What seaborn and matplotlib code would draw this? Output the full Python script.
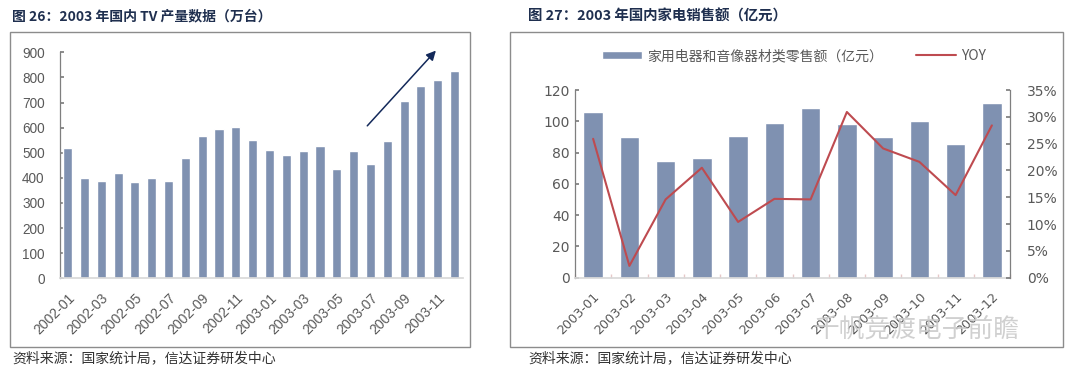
import matplotlib
matplotlib.use("Agg")
import matplotlib.pyplot as plt
import seaborn as sns
import pandas as pd
import numpy as np
from matplotlib.patches import Rectangle
from matplotlib.ticker import FuncFormatter, MultipleLocator, FixedLocator

# ---------------- data ----------------
tv_months = ["2002-01", "2002-02", "2002-03", "2002-04", "2002-05", "2002-06",
             "2002-07", "2002-08", "2002-09", "2002-10", "2002-11", "2002-12",
             "2003-01", "2003-02", "2003-03", "2003-04", "2003-05", "2003-06",
             "2003-07", "2003-08", "2003-09", "2003-10", "2003-11", "2003-12"]
tv_output = [518, 400, 386, 419, 385, 400, 386, 479, 565, 593, 601, 551,
             511, 490, 507, 526, 435, 507, 454, 547, 706, 767, 789, 824]

sales_months = ["2003-01", "2003-02", "2003-03", "2003-04", "2003-05", "2003-06",
                "2003-07", "2003-08", "2003-09", "2003-10", "2003-11", "2003-12"]
sales_value = [106, 90.2, 74.8, 76.8, 90.8, 98.7, 108.7, 98.5, 90, 100.2, 85.3, 112]
sales_yoy = [25.9, 2.2, 14.6, 20.5, 10.4, 14.7, 14.6, 30.9, 24.1, 21.6, 15.4, 28.4]

title_left = "图 26：2003 年国内 TV 产量数据（万台）"
title_right = "图 27：2003 年国内家电销售额（亿元）"
source_text = "资料来源：国家统计局，信达证券研发中心"
bar_label = "家用电器和音像器材类零售额（亿元）"
line_label = "YOY"
watermark = "千帆竞渡电子前瞻"

# ---------------- style ----------------
sns.set_theme(style="white")
plt.rcParams["font.family"] = ["Noto Sans CJK SC", "DejaVu Sans"]

BAR = "#7F91B1"
LINE = "#BE4B50"
TICK = "#595959"
SPINE = "#7F7F7F"
LIGHT = "#D9D9D9"
TITLE = "#1F2F4F"
NUMFONT_L = ["Liberation Sans", "DejaVu Sans"]
NUMFONT_R = ["DejaVu Sans"]

W, H = 1080, 375
fig = plt.figure(figsize=(10.8, 3.75), dpi=100)

def fx(px):
    return px / W

def fy(py):
    return 1 - py / H

# frames
for x0, x1 in [(10, 470), (510, 1063)]:
    fig.patches.append(Rectangle((fx(x0), fy(347)), fx(x1 - x0), (347 - 32) / H,
                                 transform=fig.transFigure, fill=False,
                                 edgecolor="#8C8C8C", linewidth=1.0))

fig.text(fx(12), fy(16), title_left, fontsize=10, fontweight="bold",
         color=TITLE, va="center", ha="left")
fig.text(fx(528), fy(16), title_right, fontsize=10.4, fontweight="bold",
         color=TITLE, va="center", ha="left")
fig.text(fx(12), fy(358), source_text, fontsize=10, color="#333333",
         va="center", ha="left")
fig.text(fx(528), fy(358), source_text, fontsize=10, color="#333333",
         va="center", ha="left")

# ---------------- left chart ----------------
axL = fig.add_axes([fx(60), fy(278.3), fx(463 - 60), (278.3 - 52.3) / H])
dfL = pd.DataFrame({"month": tv_months, "value": tv_output})
sns.barplot(data=dfL, x="month", y="value", color=BAR, saturation=1,
            width=0.54, ax=axL)
axL.set_xlim(-0.45, 23.5)
axL.set_ylim(0, 900)
axL.yaxis.set_major_locator(MultipleLocator(100))
axL.set_xlabel("")
axL.set_ylabel("")
axL.set_xticks(range(0, 24, 2))
axL.set_xticklabels(tv_months[::2], rotation=45, ha="right",
                    rotation_mode="anchor", family=NUMFONT_L)
for lab in axL.get_yticklabels():
    lab.set_family(NUMFONT_L)
for s in ["top", "right"]:
    axL.spines[s].set_visible(False)
axL.spines["left"].set_color(SPINE)
axL.spines["left"].set_linewidth(0.9)
axL.spines["bottom"].set_color(LIGHT)
axL.tick_params(axis="y", direction="in", length=3, color=SPINE,
                labelsize=9.8, labelcolor=TICK, pad=11, left=True)
axL.tick_params(axis="x", length=0, labelsize=10, labelcolor=TICK, pad=9)
axL.annotate("", xy=(22.0, 915), xytext=(17.7, 599),
             arrowprops=dict(arrowstyle="-|>", color="#13295A", lw=1.1,
                             mutation_scale=14),
             annotation_clip=False)

# ---------------- right chart ----------------
axR = fig.add_axes([fx(575), fy(277.7), fx(1010 - 575), (277.7 - 90) / H])
dfR = pd.DataFrame({"month": sales_months, "value": sales_value,
                    "yoy": sales_yoy, "pos": np.arange(len(sales_months))})
sns.barplot(data=dfR, x="month", y="value", color=BAR, saturation=1,
            width=0.54, ax=axR, label=bar_label)
if axR.get_legend() is not None:
    axR.get_legend().remove()
axR.set_xlim(-0.5, 11.5)
axR.set_ylim(0, 120)
axR.yaxis.set_major_locator(MultipleLocator(20))
axR.set_xlabel("")
axR.set_ylabel("")
axR.set_xticks(range(12))
axR.set_xticklabels(sales_months, rotation=45, ha="right",
                    rotation_mode="anchor", family=NUMFONT_R)
axR.xaxis.set_minor_locator(FixedLocator(np.arange(-0.5, 12, 1.0)))
for lab in axR.get_yticklabels():
    lab.set_family(NUMFONT_R)
axR.spines["top"].set_visible(False)
axR.spines["right"].set_visible(False)
axR.spines["left"].set_color(SPINE)
axR.spines["left"].set_linewidth(0.9)
axR.spines["bottom"].set_color(LIGHT)
axR.tick_params(axis="y", direction="in", length=3, color=SPINE,
                labelsize=10, labelcolor=TICK, pad=4, left=True)
axR.tick_params(axis="x", which="major", length=0, labelsize=9.2,
                labelcolor=TICK, pad=9)
axR.tick_params(axis="x", which="minor", direction="in", length=3,
                color="#E6C8C8", bottom=True)

ax2 = axR.twinx()
sns.lineplot(data=dfR, x="pos", y="yoy", color=LINE, linewidth=1.5,
             ax=ax2, label=line_label, legend=False)
ax2.set_xlim(-0.5, 11.5)
ax2.set_ylim(0, 35)
ax2.yaxis.set_major_locator(MultipleLocator(5))
ax2.yaxis.set_major_formatter(FuncFormatter(lambda v, p: f"{v:.0f}%"))
ax2.set_ylabel("")
ax2.set_xlabel("")
for s in ["top", "left", "bottom"]:
    ax2.spines[s].set_visible(False)
ax2.spines["right"].set_visible(True)
ax2.spines["right"].set_color(SPINE)
ax2.spines["right"].set_linewidth(0.9)
ax2.tick_params(axis="y", direction="in", length=3, color=SPINE,
                labelsize=10, labelcolor=TICK, pad=12, right=True)
for lab in ax2.get_yticklabels():
    lab.set_family(NUMFONT_R)

h1, l1 = axR.get_legend_handles_labels()
h2, l2 = ax2.get_legend_handles_labels()
leg = fig.legend(h1 + h2, l1 + l2, loc="center", ncol=2, frameon=False,
                 bbox_to_anchor=(fx(794), fy(56)), fontsize=10,
                 handlelength=2.9, handleheight=0.55, columnspacing=2.4,
                 handletextpad=0.35)
for t in leg.get_texts():
    t.set_color(TICK)

fig.text(fx(917), fy(330), watermark, fontsize=18.5, color="#C8C8C8",
         alpha=0.85, ha="center", va="center")

fig.savefig("out.png", dpi=100)
